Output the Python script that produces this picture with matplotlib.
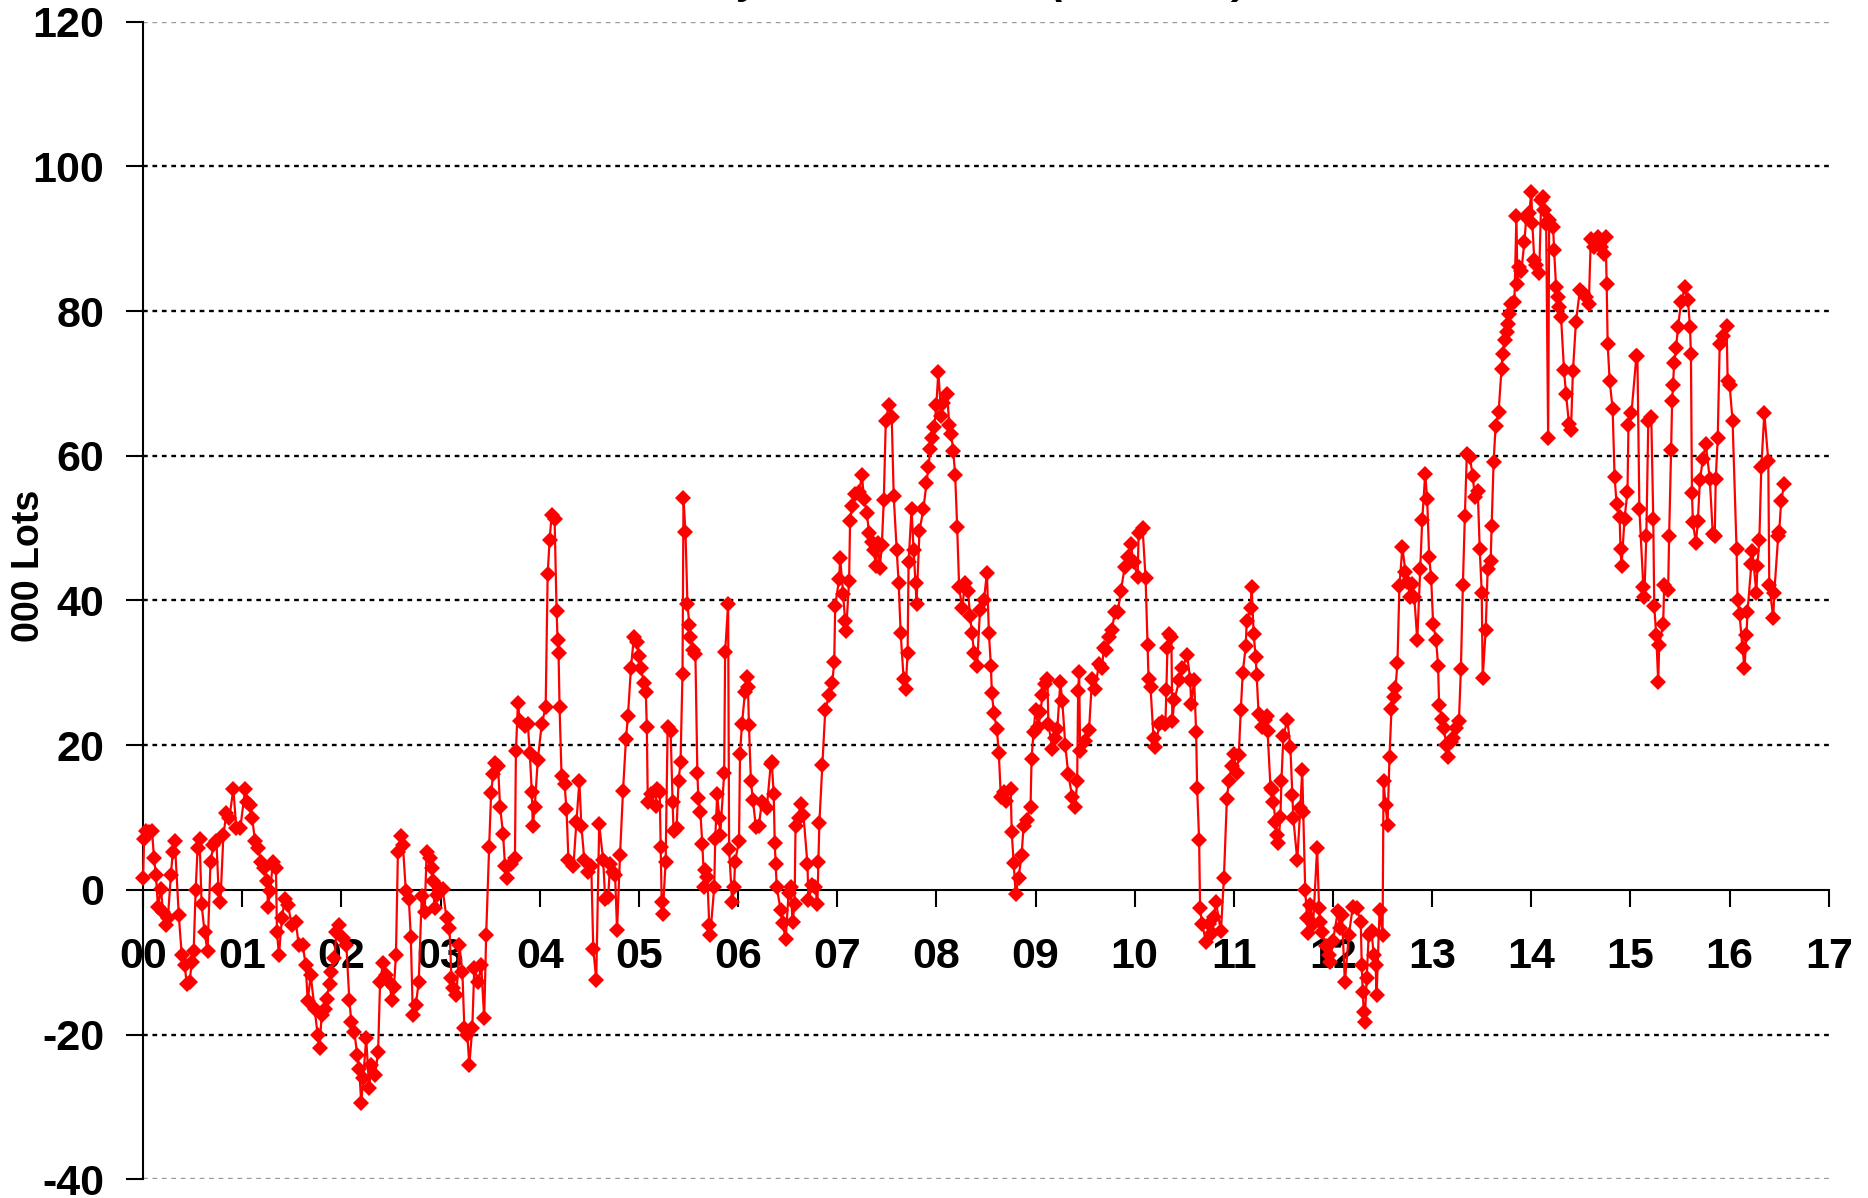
import matplotlib
matplotlib.use("Agg")
import matplotlib.pyplot as plt
from matplotlib.ticker import FixedLocator, FuncFormatter

plt.rcParams['font.family'] = ['Liberation Sans', 'DejaVu Sans']
plt.rcParams['axes.unicode_minus'] = False

# years since 2000 (weekly readings)
t_yr = [
    0.00, 0.01, 0.03, 0.06, 0.09, 0.11, 0.13, 0.15, 0.18, 0.20, 0.23, 0.25, 0.28, 0.30, 0.32, 0.36,
    0.39, 0.42, 0.44, 0.47, 0.49, 0.51, 0.53, 0.55, 0.57, 0.59, 0.62, 0.65, 0.68, 0.71, 0.74, 0.76,
    0.78, 0.81, 0.84, 0.87, 0.91, 0.94, 0.98,
    1.03, 1.05, 1.08, 1.10, 1.13, 1.16, 1.19, 1.22, 1.25, 1.26, 1.28, 1.31, 1.34, 1.35, 1.37, 1.40,
    1.43, 1.46, 1.50, 1.54, 1.57, 1.61, 1.64, 1.66, 1.69, 1.73, 1.76, 1.78, 1.80, 1.83, 1.85, 1.88,
    1.90, 1.93, 1.95, 1.98,
    2.02, 2.05, 2.08, 2.10, 2.13, 2.16, 2.18, 2.20, 2.22, 2.25, 2.28, 2.30, 2.34, 2.37, 2.39, 2.42,
    2.45, 2.48, 2.51, 2.53, 2.55, 2.57, 2.60, 2.62, 2.65, 2.68, 2.70, 2.72, 2.75, 2.78, 2.81, 2.84,
    2.86, 2.89, 2.91, 2.92, 2.94, 2.96, 2.99,
    3.02, 3.06, 3.09, 3.11, 3.13, 3.16, 3.19, 3.22, 3.24, 3.27, 3.29, 3.32, 3.34, 3.38, 3.41, 3.44,
    3.46, 3.49, 3.51, 3.53, 3.55, 3.58, 3.60, 3.63, 3.65, 3.67, 3.71, 3.75, 3.76, 3.78, 3.80, 3.85,
    3.88, 3.90, 3.92, 3.93, 3.95, 3.98,
    4.02, 4.06, 4.08, 4.10, 4.12, 4.15, 4.17, 4.18, 4.19, 4.20, 4.22, 4.25, 4.27, 4.29, 4.34, 4.37,
    4.40, 4.42, 4.45, 4.49, 4.52, 4.54, 4.57, 4.60, 4.64, 4.66, 4.69, 4.71, 4.74, 4.76, 4.78, 4.81,
    4.84, 4.87, 4.89, 4.92, 4.95, 4.98,
    5.00, 5.02, 5.05, 5.07, 5.08, 5.09, 5.12, 5.17, 5.18, 5.21, 5.22, 5.23, 5.24, 5.27, 5.29, 5.32,
    5.34, 5.35, 5.38, 5.40, 5.42, 5.44, 5.45, 5.47, 5.49, 5.51, 5.52, 5.55, 5.57, 5.59, 5.60, 5.62,
    5.64, 5.66, 5.67, 5.69, 5.71, 5.72, 5.76, 5.77, 5.79, 5.81, 5.82, 5.86, 5.87, 5.90, 5.91, 5.94,
    5.96, 5.97,
    6.01, 6.02, 6.04, 6.07, 6.09, 6.10, 6.11, 6.13, 6.15, 6.18, 6.21, 6.24, 6.29, 6.33, 6.34, 6.36,
    6.37, 6.38, 6.39, 6.43, 6.45, 6.48, 6.51, 6.53, 6.55, 6.57, 6.58, 6.61, 6.63, 6.66, 6.70, 6.71,
    6.75, 6.78, 6.80, 6.81, 6.82, 6.85, 6.88, 6.92, 6.95, 6.97, 6.98,
    7.02, 7.03, 7.06, 7.08, 7.09, 7.12, 7.13, 7.15, 7.18, 7.22, 7.25, 7.27, 7.30, 7.32, 7.35, 7.37,
    7.39, 7.41, 7.43, 7.45, 7.47, 7.49, 7.52, 7.55, 7.57, 7.60, 7.62, 7.64, 7.67, 7.69, 7.71, 7.72,
    7.75, 7.77, 7.79, 7.80, 7.83, 7.87, 7.90, 7.92, 7.94, 7.96, 7.98,
    8.00, 8.02, 8.05, 8.07, 8.11, 8.13, 8.15, 8.17, 8.19, 8.21, 8.23, 8.26, 8.29, 8.32, 8.34, 8.36,
    8.38, 8.41, 8.44, 8.48, 8.51, 8.53, 8.55, 8.56, 8.58, 8.61, 8.63, 8.65, 8.68, 8.70, 8.75, 8.76,
    8.78, 8.80, 8.83, 8.86, 8.88, 8.91, 8.95, 8.96, 8.98,
    9.00, 9.03, 9.05, 9.07, 9.10, 9.12, 9.13, 9.17, 9.20, 9.22, 9.25, 9.27, 9.30, 9.33, 9.37, 9.40,
    9.42, 9.43, 9.44, 9.45, 9.50, 9.54, 9.57, 9.60, 9.64, 9.67, 9.69, 9.71, 9.74, 9.77, 9.80, 9.83,
    9.86, 9.90, 9.93, 9.96, 9.99,
    10.03, 10.04, 10.08, 10.11, 10.13, 10.14, 10.16, 10.19, 10.21, 10.25, 10.28, 10.31, 10.32, 10.33,
    10.35, 10.37, 10.38, 10.40, 10.45, 10.48, 10.53, 10.56, 10.57, 10.60, 10.62, 10.63, 10.65, 10.66,
    10.68, 10.72, 10.75, 10.78, 10.80, 10.82, 10.87, 10.90, 10.93, 10.95, 10.98,
    11.00, 11.03, 11.05, 11.07, 11.09, 11.12, 11.13, 11.17, 11.18, 11.20, 11.22, 11.23, 11.25, 11.28,
    11.31, 11.33, 11.34, 11.37, 11.39, 11.40, 11.42, 11.44, 11.45, 11.47, 11.48, 11.50, 11.54, 11.57,
    11.59, 11.60, 11.64, 11.67, 11.69, 11.70, 11.72, 11.74, 11.75, 11.77, 11.80, 11.84, 11.86, 11.87,
    11.89, 11.93, 11.96, 11.97,
    12.00, 12.05, 12.07, 12.09, 12.12, 12.16, 12.20, 12.24, 12.28, 12.29, 12.30, 12.31, 12.32, 12.34,
    12.36, 12.39, 12.41, 12.43, 12.44, 12.47, 12.50, 12.51, 12.53, 12.55, 12.57, 12.59, 12.62, 12.63,
    12.65, 12.67, 12.70, 12.73, 12.75, 12.78, 12.80, 12.82, 12.85, 12.88, 12.90, 12.93, 12.95, 12.97,
    12.99,
    13.01, 13.04, 13.06, 13.07, 13.10, 13.12, 13.14, 13.16, 13.19, 13.21, 13.24, 13.27, 13.29, 13.31,
    13.33, 13.35, 13.38, 13.41, 13.43, 13.46, 13.48, 13.50, 13.51, 13.54, 13.56, 13.59, 13.60, 13.62,
    13.64, 13.67, 13.70, 13.71, 13.73, 13.75, 13.76, 13.78, 13.80, 13.83, 13.85, 13.86, 13.88, 13.90,
    13.93, 13.95, 13.98,
    14.00, 14.01, 14.03, 14.05, 14.08, 14.10, 14.12, 14.13, 14.15, 14.17, 14.18, 14.22, 14.23, 14.25,
    14.27, 14.28, 14.30, 14.33, 14.35, 14.38, 14.40, 14.42, 14.45, 14.49, 14.52, 14.55, 14.58, 14.60,
    14.63, 14.67, 14.70, 14.73, 14.75, 14.76, 14.77, 14.79, 14.82, 14.84, 14.86, 14.89, 14.90, 14.91,
    14.94, 14.97, 14.98,
    15.01, 15.06, 15.07, 15.09, 15.13, 15.14, 15.16, 15.18, 15.21, 15.23, 15.24, 15.26, 15.28, 15.29,
    15.33, 15.34, 15.38, 15.39, 15.41, 15.42, 15.43, 15.44, 15.46, 15.48, 15.51, 15.55, 15.58, 15.60,
    15.61, 15.62, 15.63, 15.66, 15.68, 15.70, 15.73, 15.76, 15.80, 15.83, 15.85, 15.86, 15.88, 15.90,
    15.93, 15.97, 15.98,
    16.00, 16.03, 16.07, 16.08, 16.10, 16.13, 16.15, 16.17, 16.18, 16.22, 16.23, 16.27, 16.28, 16.30,
    16.32, 16.35, 16.39, 16.40, 16.44, 16.45, 16.49, 16.50, 16.52, 16.55,
]

# net position, 000 lots
net_lots = [
    1.6, 7.1, 8.2, 8.0, 8.2, 4.4, 2.0, -2.3, 0.2, -3.0, -4.8, -3.9, 2.0, 5.3, 6.7, -3.5,
    -9.0, -10.4, -13.0, -12.7, -10.0, -8.5, 0.0, 5.8, 7.0, -2.0, -5.8, -8.5, 3.9, 6.2, 6.7, 0.2,
    -1.6, 7.6, 10.6, 9.9, 14.0, 8.5, 8.5,
    14.0, 12.2, 11.8, 9.9, 6.7, 5.8, 3.9, 3.0, 1.2, -2.3, -0.2, 3.9, 3.0, -5.8, -9.0, -3.9,
    -1.2, -2.1, -4.8, -4.4, -7.6, -7.6, -10.4, -15.4, -11.8, -16.4, -20.0, -21.9, -17.3, -16.4, -15.0, -13.0,
    -11.3, -9.4, -5.8, -4.8,
    -6.7, -7.6, -15.2, -18.2, -19.6, -22.8, -24.7, -29.5, -26.0, -20.5, -27.4, -24.2, -25.6, -22.4, -12.7, -10.1,
    -11.8, -12.7, -15.2, -13.4, -9.0, 5.3, 7.4, 6.2, -0.2, -1.2, -6.5, -17.3, -15.9, -12.7, -0.9, -3.0,
    5.3, 4.4, 3.0, 1.2, -2.5, -0.7, 0.2,
    0.2, -3.9, -5.3, -12.2, -13.6, -14.5, -7.6, -11.3, -19.1, -20.0, -24.2, -19.1, -10.8, -12.7, -10.4, -17.7,
    -6.2, 6.0, 13.4, 16.0, 17.6, 17.1, 11.5, 7.8, 3.3, 1.7, 3.6, 4.4, 19.2, 25.8, 23.4, 22.7,
    22.9, 18.9, 13.6, 8.9, 11.5, 17.9,
    22.9, 25.3, 43.6, 48.4, 51.8, 51.3, 38.6, 34.6, 32.7, 25.3, 15.8, 14.7, 11.2, 4.1, 3.3, 9.4,
    15.0, 8.9, 4.1, 2.5, 3.3, -8.1, -12.4, 9.1, 4.1, -1.2, -1.0, 3.6, 2.5, 2.0, -5.5, 4.9,
    13.7, 20.9, 24.1, 30.7, 35.0, 34.2,
    32.3, 30.7, 28.6, 27.3, 22.5, 12.1, 13.2, 11.6, 14.0, 13.5, 6.0, -1.7, -3.3, 3.9, 22.5, 22.0,
    12.1, 8.1, 8.5, 15.0, 17.7, 29.9, 54.1, 49.4, 39.5, 36.6, 35.0, 33.1, 32.6, 16.1, 12.7, 10.8,
    6.3, 0.4, 2.8, 1.8, -4.9, -6.2, 0.4, 7.1, 13.2, 10.0, 7.6, 16.1, 32.9, 39.5, 5.7, -1.7,
    0.4, 3.9,
    6.8, 18.8, 23.0, 27.3, 29.4, 28.1, 22.8, 15.0, 12.4, 8.7, 8.9, 12.1, 11.3, 17.4, 17.7, 13.2,
    6.5, 3.6, 0.4, -2.8, -4.6, -6.8, -0.4, 0.4, -4.4, -2.0, 8.9, 10.0, 11.9, 10.3, 3.6, -1.4,
    0.7, 0.4, -2.0, 3.9, 9.2, 17.2, 24.9, 27.0, 28.6, 31.5, 39.3,
    43.0, 45.9, 40.9, 37.1, 35.8, 42.7, 51.0, 53.1, 54.7, 55.0, 57.3, 54.0, 52.1, 49.3, 48.1, 47.0,
    44.7, 48.0, 44.5, 47.6, 53.9, 64.8, 67.0, 65.3, 54.4, 47.0, 42.4, 35.5, 29.2, 27.8, 32.7, 45.3,
    52.7, 47.0, 42.4, 39.5, 49.6, 52.7, 56.2, 58.5, 61.0, 62.5, 64.0,
    67.0, 71.6, 65.5, 67.3, 68.5, 64.2, 63.0, 60.7, 57.3, 50.1, 41.8, 39.0, 42.4, 41.3, 37.8, 35.5,
    32.7, 30.9, 38.7, 40.1, 43.8, 35.5, 30.9, 27.2, 24.4, 22.3, 18.9, 12.9, 13.5, 12.3, 14.0, 8.0,
    3.7, -0.6, 1.7, 4.9, 8.9, 9.7, 11.5, 18.1, 21.8,
    24.9, 22.5, 24.6, 26.9, 28.5, 29.2, 22.9, 19.5, 21.0, 22.3, 28.7, 26.1, 20.1, 16.0, 12.9, 11.5,
    15.0, 27.5, 30.1, 19.2, 20.6, 22.1, 29.2, 27.8, 31.2, 30.7, 33.5, 33.2, 35.0, 35.9, 38.4, 38.4,
    41.3, 44.6, 46.0, 47.8, 45.3,
    43.3, 49.3, 50.0, 43.1, 33.9, 29.2, 28.0, 21.0, 19.8, 23.0, 23.2, 23.0, 27.7, 33.4,
    35.4, 34.9, 23.3, 26.2, 29.0, 30.7, 32.4, 29.0, 25.7, 29.0, 21.8, 14.1, 6.9, -2.5,
    -4.7, -7.2, -4.7, -6.0, -3.7, -1.7, -5.7, 1.7, 12.6, 15.1, 17.1,
    18.8, 16.1, 18.6, 24.8, 30.0, 33.7, 37.1, 38.9, 41.8, 35.4, 32.2, 29.7, 24.3, 22.5,
    23.5, 24.0, 22.0, 14.1, 13.8, 12.1, 9.4, 7.6, 6.5, 10.1, 15.1, 21.3, 23.5, 19.8,
    13.1, 9.9, 4.1, 11.3, 16.6, 10.8, 0.0, -3.9, -6.0, -2.1, -4.7, 5.8, -2.5, -4.4,
    -5.8, -7.7, -9.0, -9.9,
    -7.0, -2.9, -5.3, -3.5, -12.7, -6.2, -2.3, -2.5, -4.4, -10.4, -14.1, -16.8, -18.2, -12.2,
    -6.2, -5.7, -9.0, -10.4, -14.5, -2.7, -6.2, 15.0, 11.8, 9.0, 18.4, 25.0, 26.7, 27.9,
    31.3, 42.0, 47.4, 44.0, 42.5, 40.5, 42.3, 40.5, 34.5, 44.3, 51.1, 57.5, 54.0, 46.0,
    43.1,
    36.8, 34.5, 31.0, 25.6, 23.6, 22.4, 20.1, 18.4, 20.5, 21.0, 22.4, 23.3, 30.5, 42.2,
    51.7, 60.3, 59.8, 57.2, 54.3, 55.2, 47.1, 41.1, 29.3, 35.9, 44.3, 45.4, 50.3, 59.2,
    64.1, 66.0, 72.0, 74.1, 76.0, 77.1, 78.2, 79.6, 81.0, 81.3, 93.2, 83.8, 86.1, 85.6,
    89.5, 93.0, 93.5,
    96.5, 92.2, 87.1, 86.4, 85.3, 95.4, 95.8, 93.9, 92.0, 62.4, 92.6, 91.6, 88.4, 83.3,
    82.0, 80.6, 79.2, 71.8, 68.6, 64.4, 63.5, 71.7, 78.5, 82.9, 82.5, 82.0, 81.0, 90.0,
    88.8, 90.2, 88.8, 87.9, 90.2, 83.8, 75.5, 70.4, 66.5, 57.1, 53.4, 51.6, 47.1, 44.7,
    51.3, 55.0, 64.3,
    65.9, 73.8, 73.8, 52.6, 41.8, 40.5, 48.9, 64.8, 65.3, 51.3, 39.2, 35.2, 28.8, 33.9,
    36.8, 42.1, 41.5, 48.9, 60.8, 67.5, 69.8, 72.8, 74.9, 77.8, 81.2, 83.3, 81.5, 77.8,
    74.1, 54.8, 50.8, 47.9, 51.0, 56.6, 59.5, 61.6, 56.8, 49.2, 48.9, 56.8, 62.4, 75.4,
    76.5, 78.0, 70.4,
    69.8, 64.8, 47.1, 40.0, 38.1, 33.4, 30.7, 35.2, 38.4, 45.0, 46.8, 41.0, 44.7, 48.4,
    58.5, 65.9, 59.3, 42.1, 37.6, 41.0, 48.9, 49.5, 53.7, 56.1,
]

year_ticks = list(range(0, 18))
y_ticks = [-40, -20, 0, 20, 40, 60, 80, 100, 120]

fig = plt.figure(figsize=(18.68, 11.98), dpi=100)
ax = fig.add_axes([0.0766, 0.0155, 0.9024, 0.9665])

# dotted grid lines
for yv in y_ticks:
    if yv == 0:
        continue
    col = '#9a9a9a' if yv in (-40, 120) else 'black'
    ax.axhline(yv, color=col, linestyle=(0, (2, 2)), linewidth=1.7, zorder=1)

ax.plot(t_yr, net_lots, color='#ff0000', linewidth=1.6, marker='D',
        markersize=8.5, markeredgewidth=0, zorder=3, clip_on=False)

ax.set_xlim(0, 17)
ax.set_ylim(-40, 120)

ax.spines['top'].set_visible(False)
ax.spines['right'].set_visible(False)
ax.spines['bottom'].set_position(('data', 0))
ax.spines['left'].set_linewidth(1.5)
ax.spines['bottom'].set_linewidth(1.5)

ax.xaxis.set_major_locator(FixedLocator(year_ticks))
ax.xaxis.set_major_formatter(FuncFormatter(lambda v, p: f"{int(round(v)):02d}"))
ax.yaxis.set_major_locator(FixedLocator(y_ticks))

ax.tick_params(axis='x', direction='out', length=12, width=1.5, pad=22,
               labelsize=31)
ax.tick_params(axis='y', direction='out', length=12, width=1.5, pad=16,
               labelsize=31)
for lab in ax.get_xticklabels() + ax.get_yticklabels():
    lab.set_fontweight('bold')

ax.set_ylabel('000 Lots', fontsize=27, fontweight='bold')
ax.yaxis.set_label_coords(-0.057, 0.53)

# title sits just above the canvas, only its lowest part shows
fig.text(0.5, 1.006, 'Weekly Net Positions (000 Lots)', ha='center', va='baseline',
         fontsize=30, fontstyle='italic', fontweight='bold')

fig.savefig('out.png', dpi=100)
